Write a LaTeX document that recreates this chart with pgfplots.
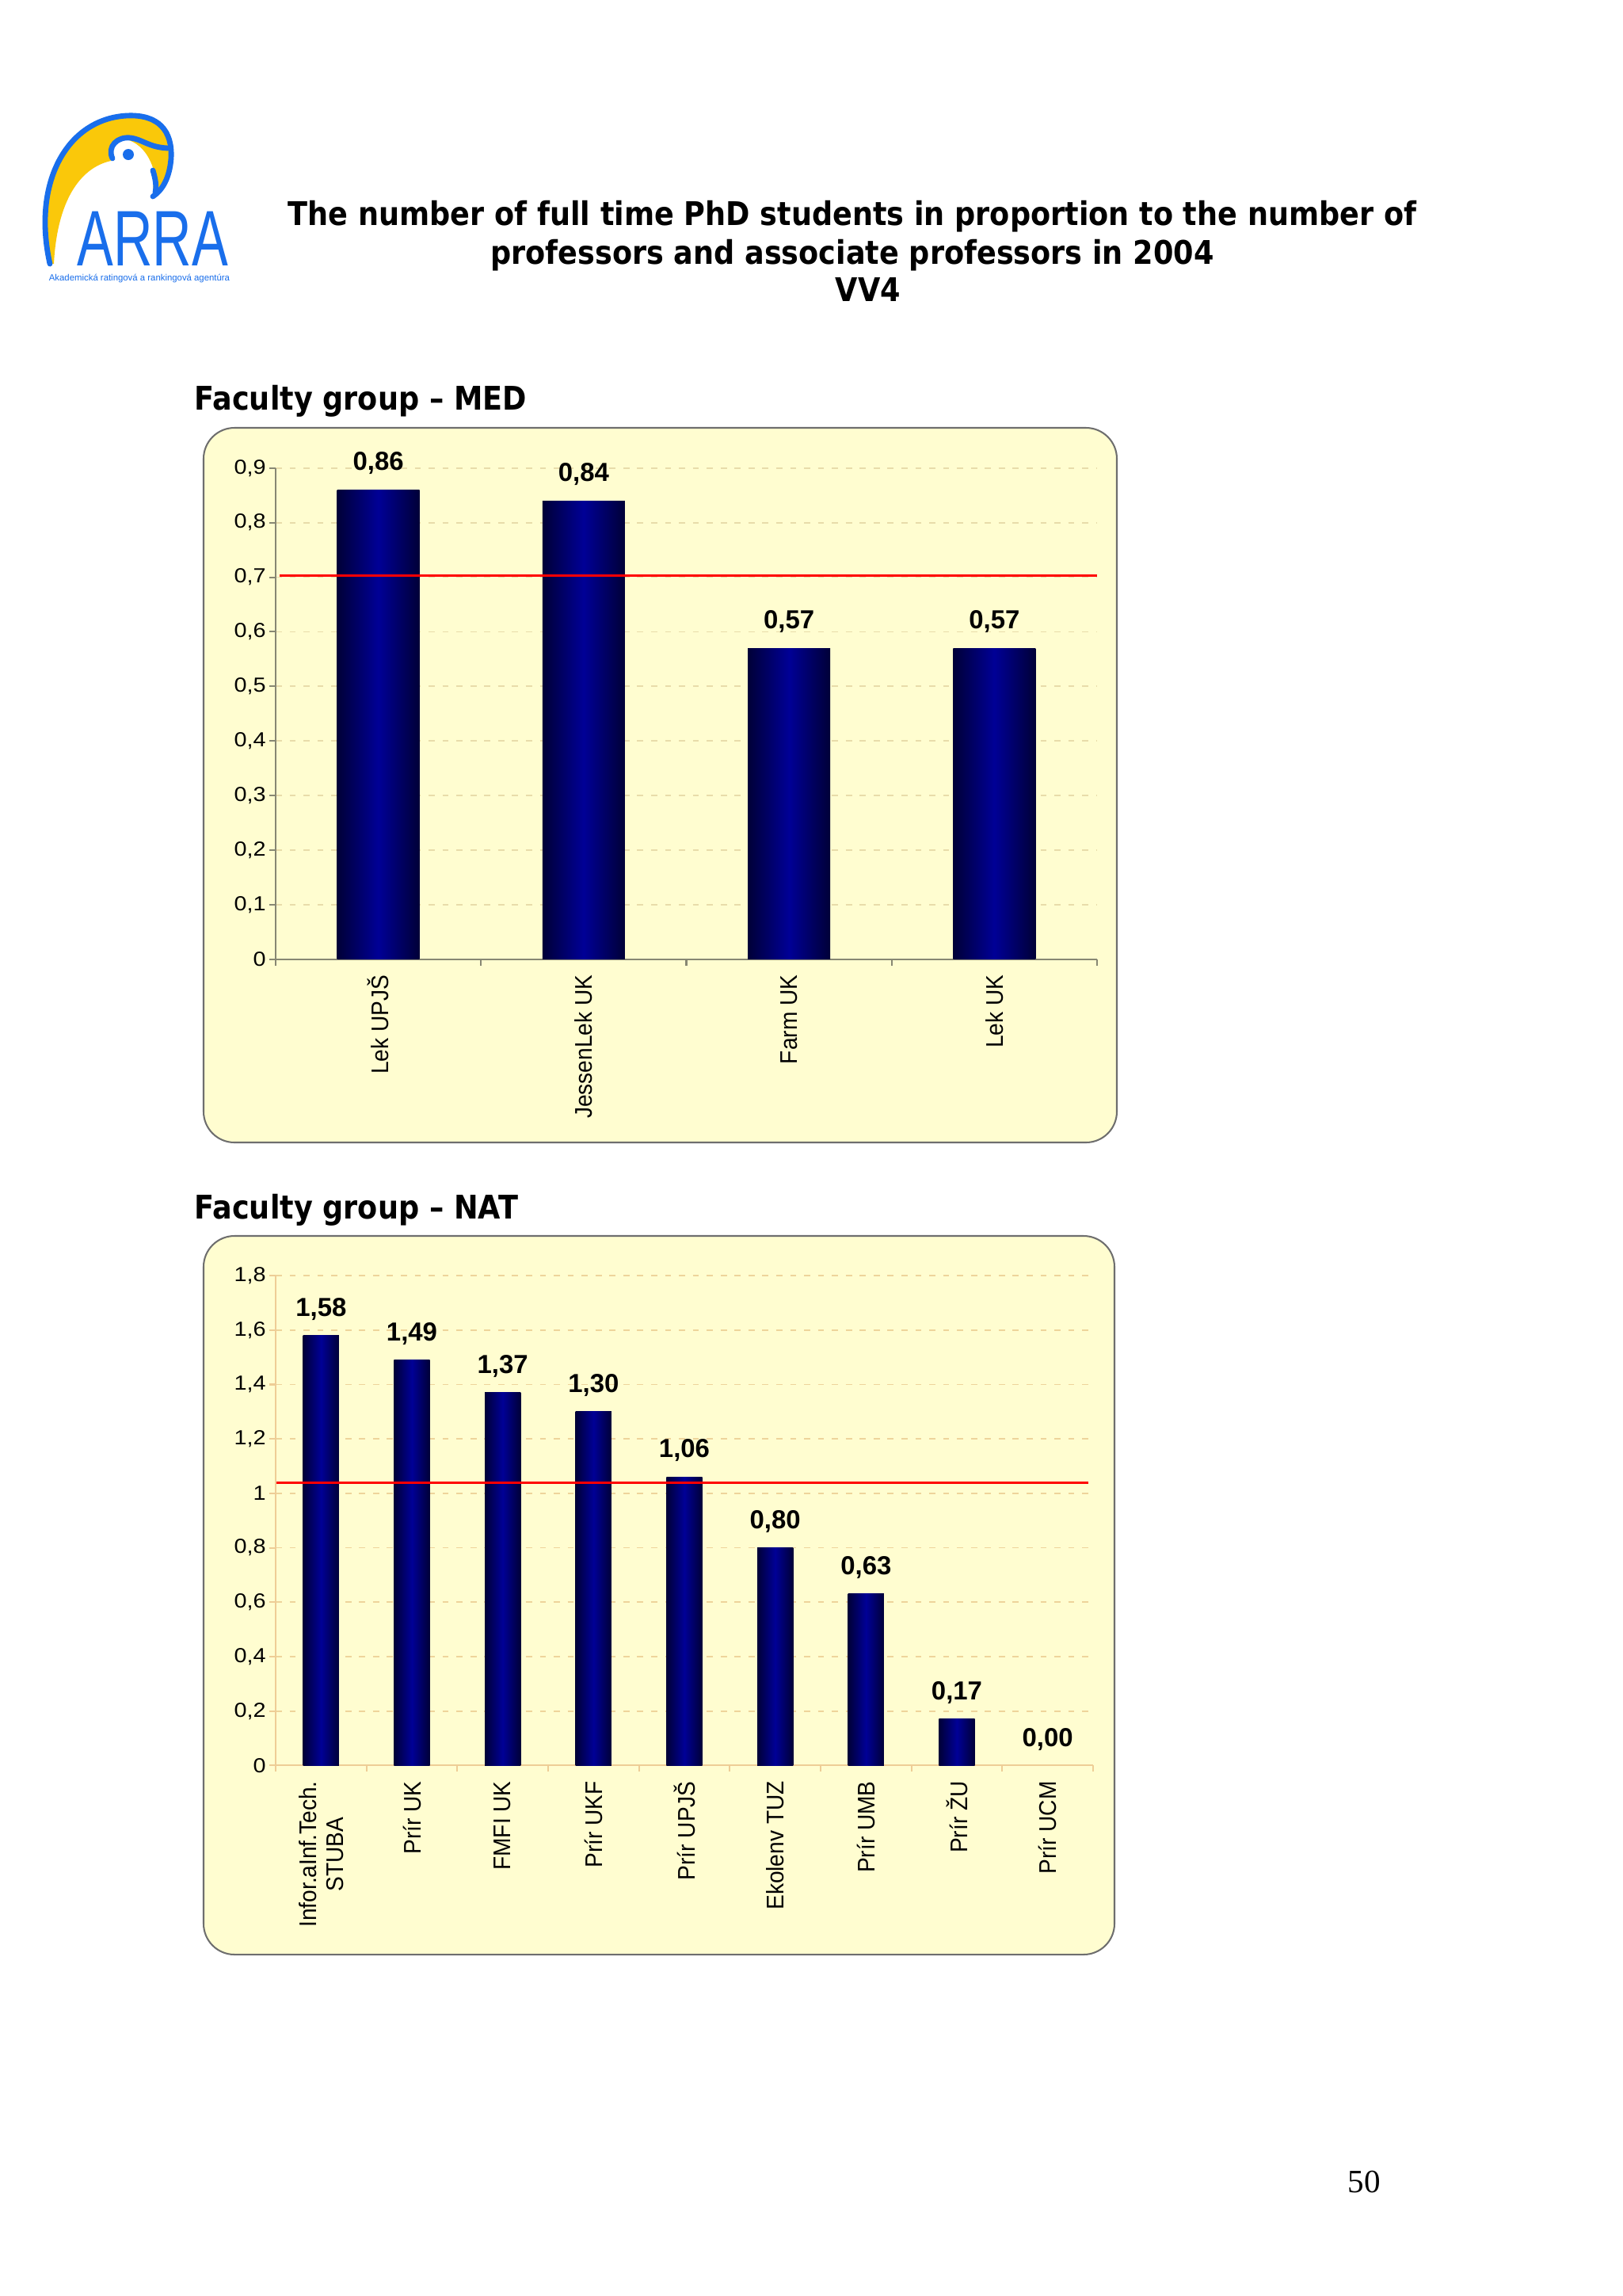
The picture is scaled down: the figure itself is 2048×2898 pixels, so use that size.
\documentclass[border=0pt]{standalone}
\usepackage{fontspec}
\setmainfont{Liberation Sans}
\newfontfamily\tahoma[FakeStretch=0.89]{DejaVu Sans}
\newfontfamily\timesf{Liberation Serif}
\usepackage{graphicx}
\usepackage{pgfplots}
\pgfplotsset{compat=1.18}
\definecolor{logoblue}{RGB}{25,110,235}
\definecolor{logoyellow}{RGB}{250,200,10}
\definecolor{boxfill}{RGB}{255,253,208}
\definecolor{boxedge}{RGB}{110,110,110}
\definecolor{medaxis}{RGB}{135,135,115}
\definecolor{medgrid}{RGB}{232,220,170}
\definecolor{nataxis}{RGB}{238,205,150}
\definecolor{natgrid}{RGB}{238,212,155}
\definecolor{bardark}{RGB}{0,0,55}
\definecolor{barmid}{RGB}{0,0,150}
\definecolor{avgred}{RGB}{255,0,0}

\pgfplotsset{
  facstyle/.style={
    scale only axis, anchor=south west, clip=false,
    axis x line*=bottom, axis y line*=left,
    tick align=outside,
    major tick length=0.8mm, minor tick length=0.8mm,
    ymajorgrids,
    /pgf/number format/assume math mode=true,
    /pgf/number format/use comma,
    yticklabel style={font=\fontsize{7.5}{8.5}\selectfont, xscale=1.12, inner sep=1pt},
    xticklabel style={font=\fontsize{8.2}{9.2}\selectfont, rotate=90, anchor=east, yscale=1.08, align=center},
    every major x tick/.append style={draw=none},
    ymin=0,
  },
  barfill/.style={ybar, bar shift=0pt, draw=none, left color=bardark, right color=bardark, middle color=barmid},
  barlabel/.style={
    nodes near coords={\pgfmathprintnumber[fixed,fixed zerofill,precision=2,use comma]{\pgfplotspointmeta}},
    every node near coord/.append style={font=\fontsize{9.6}{10.6}\selectfont\bfseries, anchor=base, yshift=2.5mm, text=black}},
}

\begin{document}
\begin{tikzpicture}[x=0.1025390625mm, y=-0.1025390625mm]
\path[use as bounding box, fill=white] (0,0) rectangle (2048,2898);

% logo
\fill[logoyellow] (63,333) .. controls (40,230) and (85,150) .. (160,146)
   .. controls (200,144) and (218,165) .. (216,200)
   .. controls (214,225) and (205,240) .. (193,248)
   -- (194,215)
   .. controls (190,200) and (180,182) .. (160,176)
   .. controls (145,172) and (133,185) .. (140,203)
   .. controls (100,212) and (72,255) .. (68,333) -- cycle;
\draw[logoblue, line width=0.7mm, line cap=round] (63,333) .. controls (40,230) and (85,150) .. (160,146)
   .. controls (200,144) and (218,165) .. (216,200)
   .. controls (214,225) and (205,240) .. (193,248);
\draw[logoblue, line width=0.7mm, line cap=round] (142,200) .. controls (135,185) and (148,172) .. (165,174) .. controls (180,176) and (188,186) .. (212,187);
\draw[logoblue, line width=0.7mm, line cap=round] (193,215) .. controls (196,225) and (198,235) .. (196,243);
\fill[logoblue] (162,195) circle (7);
\node[anchor=base, text=logoblue, font=\fontsize{29}{30}\selectfont, xscale=0.69, inner sep=0] at (193,335) {ARRA};
\node[anchor=base, text=logoblue, inner sep=0] at (176,354) {\resizebox{23.4mm}{!}{Akademická ratingová a rankingová agentúra}};

% titles
\node[anchor=base, inner sep=0, font=\tahoma\bfseries\fontsize{12}{14}\selectfont] at (1076,284) {The number of full time PhD students in proportion to the number of};
\node[anchor=base, inner sep=0, font=\tahoma\bfseries\fontsize{12}{14}\selectfont] at (1076,333) {professors and associate professors in 2004};
\node[anchor=base, inner sep=0, font=\tahoma\bfseries\fontsize{12}{14}\selectfont] at (1096,380) {VV4};
\node[anchor=base west, inner sep=0, font=\tahoma\bfseries\fontsize{12}{14}\selectfont] at (245,517) {Faculty group – MED};
\node[anchor=base west, inner sep=0, font=\tahoma\bfseries\fontsize{12}{14}\selectfont] at (245,1538) {Faculty group – NAT};
\node[anchor=base, inner sep=0, font=\timesf\fontsize{12}{14}\selectfont] at (1722,2767) {50};

% boxes
\draw[boxedge, line width=0.6pt, fill=boxfill, rounded corners=4mm] (257,540) rectangle (1410,1442);
\draw[boxedge, line width=0.6pt, fill=boxfill, rounded corners=4mm] (257,1560) rectangle (1407,2467);

% MED
\begin{axis}[facstyle,
  at={(35.684mm,-124.145mm)}, width=106.33mm, height=63.575mm,
  xmin=-0.5, xmax=3.5, ymax=0.9,
  ytick={0,0.1,0.2,0.3,0.4,0.5,0.6,0.7,0.8,0.9},
  xtick={0,1,2,3}, xticklabels={Lek UPJŠ, JessenLek UK, Farm UK, Lek UK},
  minor xtick={-0.5,0.5,1.5,2.5,3.5},
  axis line style={medaxis, line width=0.6pt},
  every tick/.append style={medaxis, line width=0.6pt},
  grid style={medgrid, dash pattern=on 0.8mm off 1mm, line width=0.5pt},
]
\addplot[barfill, barlabel, bar width=10.66mm] coordinates {(0,0.86)};
\addplot[barfill, barlabel, bar width=10.66mm] coordinates {(1,0.84)};
\addplot[barfill, barlabel, bar width=10.66mm] coordinates {(2,0.57)};
\addplot[barfill, barlabel, bar width=10.66mm] coordinates {(3,0.57)};
\addplot[avgred, line width=0.9pt] coordinates {(-0.48,0.703) (3.5,0.703)};
\end{axis}

% NAT
\begin{axis}[facstyle,
  at={(35.684mm,-228.49mm)}, width=105.82mm, height=63.40mm,
  xmin=-0.5, xmax=8.5, ymax=1.8,
  ytick={0,0.2,0.4,0.6,0.8,1,1.2,1.4,1.6,1.8},
  xtick={0,1,2,3,4,5,6,7,8},
  xticklabels={{Infor.aInf.Tech.\\STUBA}, Prír UK, FMFI UK, Prír UKF, Prír UPJŠ, Ekolenv TUZ, Prír UMB, Prír ŽU, Prír UCM},
  minor xtick={-0.5,0.5,1.5,2.5,3.5,4.5,5.5,6.5,7.5,8.5},
  axis line style={nataxis, line width=0.6pt},
  every tick/.append style={nataxis, line width=0.6pt},
  grid style={natgrid, dash pattern=on 0.8mm off 1mm, line width=0.5pt},
]
\addplot[barfill, barlabel, bar width=4.645mm] coordinates {(0,1.58)};
\addplot[barfill, barlabel, bar width=4.645mm] coordinates {(1,1.49)};
\addplot[barfill, barlabel, bar width=4.645mm] coordinates {(2,1.37)};
\addplot[barfill, barlabel, bar width=4.645mm] coordinates {(3,1.30)};
\addplot[barfill, barlabel, bar width=4.645mm] coordinates {(4,1.06)};
\addplot[barfill, barlabel, bar width=4.645mm] coordinates {(5,0.80)};
\addplot[barfill, barlabel, bar width=4.645mm] coordinates {(6,0.63)};
\addplot[barfill, barlabel, bar width=4.645mm] coordinates {(7,0.17)};
\addplot[ybar, bar shift=0pt, draw=none, fill=none, barlabel, bar width=4.645mm] coordinates {(8,0)};
\addplot[avgred, line width=0.9pt] coordinates {(-0.49,1.038) (8.447,1.038)};
\end{axis}
\end{tikzpicture}
\end{document}
